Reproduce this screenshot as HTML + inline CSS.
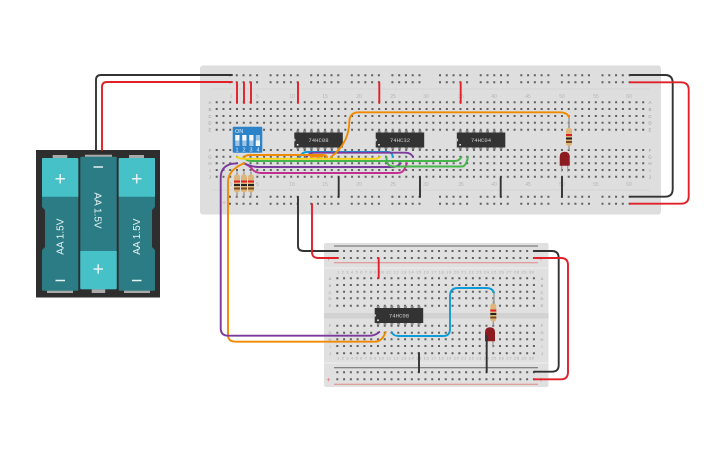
<!DOCTYPE html>
<html><head><meta charset="utf-8"><style>
html,body{margin:0;padding:0;background:#fff}
svg{display:block}
text{font-family:"Liberation Sans",sans-serif}
.n{font-size:5px;fill:#b4b4b4;text-anchor:middle}
.m{font-size:4.5px;fill:#999;text-anchor:middle}
.w{fill:none;stroke-width:1.9;stroke-linecap:round}
.ic{font-family:"Liberation Mono",monospace;font-size:5.6px;fill:#cfcfcf;text-anchor:middle}
.aa{font-size:10px;fill:#e8f4f4;text-anchor:middle}
</style></head><body>
<svg width="725" height="453" viewBox="0 0 725 453" xmlns="http://www.w3.org/2000/svg">
<defs>
<g id="g5"><line x1="-1" y1="0" x2="28.5" y2="0" stroke="#606060" stroke-width="2" stroke-dasharray="2 4.77"/></g>
<g id="railg">
<use href="#g5" x="230"/><use href="#g5" x="270.6"/><use href="#g5" x="311.2"/><use href="#g5" x="351.8"/><use href="#g5" x="392.4"/><use href="#g5" x="440"/><use href="#g5" x="480.7"/><use href="#g5" x="521.3"/><use href="#g5" x="561.9"/><use href="#g5" x="602.5"/>
</g>
<line id="bigrow" x1="215.7" y1="0" x2="645" y2="0" stroke="#606060" stroke-width="2" stroke-dasharray="2 4.77"/>
<line id="smrow" x1="336.3" y1="0" x2="536" y2="0" stroke="#606060" stroke-width="2" stroke-dasharray="2 4.78"/>
<g id="res">
<line x1="0" y1="-3" x2="0" y2="22" stroke="#999" stroke-width="1.4"/>
<rect x="-3" y="0" width="6" height="18" rx="2.5" fill="#dcb67a"/>
<rect x="-3" y="6" width="6" height="2" fill="#e01f26"/>
<rect x="-3" y="9.5" width="6" height="2" fill="#222"/>
<rect x="-3" y="13" width="6" height="2" fill="#7a4a1e"/>
</g>
<g id="led">
<line x1="-3" y1="13" x2="-3" y2="20" stroke="#999" stroke-width="1.2"/>
<line x1="3" y1="13" x2="3" y2="20" stroke="#999" stroke-width="1.2"/>
<path d="M-5 14 V5 Q-5 0 0 0 Q5 0 5 5 V14 Z" fill="#8c1c1f"/>
</g>
<g id="chip">
<line x1="2" y1="-1" x2="48" y2="-1" stroke="#888" stroke-width="2" stroke-dasharray="3 3.8"/>
<line x1="2" y1="15.5" x2="48" y2="15.5" stroke="#888" stroke-width="2" stroke-dasharray="3 3.8"/>
<rect x="0" y="0" width="48.5" height="15" fill="#333"/>
<path d="M0 5.5 L1.5 7.5 L0 9.5Z" fill="#dcdcdc"/>
<rect x="2.5" y="11.5" width="1.6" height="1.6" fill="#eee"/>
</g>
</defs>

<!-- big board -->
<rect x="200" y="65.5" width="461" height="149" rx="3" fill="#dedede"/>
<line x1="212" y1="89" x2="650" y2="89" stroke="#d4d4d4"/>
<line x1="212" y1="190" x2="650" y2="190" stroke="#d4d4d4"/>
<use href="#railg" y="75.3"/><use href="#railg" y="82.3"/><use href="#railg" y="196.7"/><use href="#railg" y="203.7"/>
<use href="#bigrow" y="102.3"/><use href="#bigrow" y="109"/><use href="#bigrow" y="116"/><use href="#bigrow" y="122.7"/><use href="#bigrow" y="129.7"/>
<use href="#bigrow" y="150"/><use href="#bigrow" y="156.7"/><use href="#bigrow" y="163.3"/><use href="#bigrow" y="170"/><use href="#bigrow" y="176.7"/>
<g class="n">
<text x="231" y="98">1</text><text x="257.5" y="98">5</text><text x="292" y="98">10</text><text x="325" y="98">15</text><text x="359" y="98">20</text><text x="393" y="98">25</text><text x="426" y="98">30</text><text x="461" y="98">35</text><text x="494" y="98">40</text><text x="528" y="98">45</text><text x="562" y="98">50</text><text x="596" y="98">55</text><text x="629" y="98">60</text>
<text x="231" y="186">1</text><text x="257.5" y="186">5</text><text x="292" y="186">10</text><text x="325" y="186">15</text><text x="359" y="186">20</text><text x="393" y="186">25</text><text x="426" y="186">30</text><text x="461" y="186">35</text><text x="494" y="186">40</text><text x="528" y="186">45</text><text x="562" y="186">50</text><text x="596" y="186">55</text><text x="629" y="186">60</text>
</g>
<g class="m">
<text x="650" y="104">A</text><text x="650" y="111">B</text><text x="650" y="118">C</text><text x="650" y="124.5">D</text><text x="650" y="131.5">E</text><text x="650" y="152">F</text><text x="650" y="158.5">G</text><text x="650" y="165">H</text><text x="650" y="172">I</text><text x="650" y="178.5">J</text>
<text x="210" y="104">A</text><text x="210" y="111">B</text><text x="210" y="118">C</text><text x="210" y="124.5">D</text><text x="210" y="131.5">E</text><text x="210" y="152">F</text><text x="210" y="158.5">G</text><text x="210" y="165">H</text><text x="210" y="172">I</text><text x="210" y="178.5">J</text>
</g>
<text x="224" y="205" font-size="7" fill="#e9a0a0" text-anchor="middle">+</text>

<!-- small board -->
<rect x="324" y="243" width="224.5" height="144" rx="2" fill="#e0e0e0"/>
<rect x="324" y="313" width="224.5" height="5.5" fill="#d2d2d2"/>
<line x1="324" y1="268" x2="548" y2="268" stroke="#eee"/>
<line x1="324" y1="363" x2="548" y2="363" stroke="#eee"/>
<line x1="334" y1="246" x2="538" y2="246" stroke="#666"/>
<line x1="334" y1="262.7" x2="538" y2="262.7" stroke="#d88"/>
<line x1="334" y1="367.7" x2="538" y2="367.7" stroke="#666"/>
<line x1="334" y1="384.3" x2="538" y2="384.3" stroke="#d88"/>
<use href="#smrow" y="251"/><use href="#smrow" y="258"/><use href="#smrow" y="372.3"/><use href="#smrow" y="379.3"/>
<use href="#smrow" y="278.3"/><use href="#smrow" y="285"/><use href="#smrow" y="291.7"/><use href="#smrow" y="298.3"/><use href="#smrow" y="305.7"/>
<use href="#smrow" y="325.7"/><use href="#smrow" y="332.7"/><use href="#smrow" y="339.3"/><use href="#smrow" y="346"/><use href="#smrow" y="353.3"/>
<text x="328.5" y="261" font-size="7" fill="#d66" text-anchor="middle">+</text>
<text x="328.5" y="382" font-size="7" fill="#d66" text-anchor="middle">+</text>
<text x="541" y="261" font-size="7" fill="#d66" text-anchor="middle">+</text>
<text x="541" y="382" font-size="7" fill="#d66" text-anchor="middle">+</text>
<g class="m" style="font-size:4px">
<text x="330" y="280">A</text><text x="330" y="287">B</text><text x="330" y="294">C</text><text x="330" y="300">D</text><text x="330" y="307">E</text><text x="330" y="327">F</text><text x="330" y="334">G</text><text x="330" y="341">H</text><text x="330" y="348">I</text><text x="330" y="355">J</text>
<text x="542" y="280">A</text><text x="542" y="287">B</text><text x="542" y="294">C</text><text x="542" y="300">D</text><text x="542" y="307">E</text><text x="542" y="327">F</text><text x="542" y="334">G</text><text x="542" y="341">H</text><text x="542" y="348">I</text><text x="542" y="355">J</text>
</g>
<text x="337" y="273.5" font-size="4" fill="#aaa" textLength="197" lengthAdjust="spacing">1  2  3  4  5  6  7  8  9  10 11 12 13 14 15 16 17 18 19 20 21 22 23 24 25 26 27 28 29 30</text>
<text x="337" y="359.5" font-size="4" fill="#aaa" textLength="197" lengthAdjust="spacing">1  2  3  4  5  6  7  8  9  10 11 12 13 14 15 16 17 18 19 20 21 22 23 24 25 26 27 28 29 30</text>

<!-- chips -->
<use href="#chip" x="294.3" y="132.5"/><text class="ic" x="318.5" y="142">74HC08</text>
<use href="#chip" x="375.7" y="132.5"/><text class="ic" x="400" y="142">74HC32</text>
<use href="#chip" x="456.8" y="132.5"/><text class="ic" x="481" y="142">74HC04</text>
<use href="#chip" x="374.7" y="308"/><text class="ic" x="399" y="317.5">74HC08</text>

<!-- DIP -->
<rect x="232.7" y="126.7" width="29.6" height="26" rx="1" fill="#2c83c9"/>
<text x="235" y="133" font-size="5.5" fill="#e6f0fa">ON</text>
<g fill="#9fc4e4">
<rect x="235.3" y="135" width="4.2" height="11"/><rect x="242.3" y="135" width="4.2" height="11"/><rect x="249.3" y="135" width="4.2" height="11"/><rect x="255.8" y="135" width="4.2" height="11"/>
</g>
<g fill="#f4f8fc">
<rect x="235.3" y="135" width="4.2" height="5.5"/><rect x="242.3" y="135" width="4.2" height="5.5"/><rect x="249.3" y="135" width="4.2" height="5.5"/><rect x="255.8" y="140.5" width="4.2" height="5.5"/>
</g>
<g font-size="5.5" fill="#e6f0fa" text-anchor="middle"><text x="237" y="151.5">1</text><text x="244" y="151.5">2</text><text x="251" y="151.5">3</text><text x="258" y="151.5">4</text></g>

<!-- resistors & LEDs -->
<use href="#res" x="237" y="174.5"/><use href="#res" x="244" y="174.5"/><use href="#res" x="251" y="174.5"/>
<use href="#res" x="569" y="128"/><use href="#led" x="564.7" y="151.7"/>
<use href="#res" x="493.3" y="303.5"/><use href="#led" x="490" y="327.3"/>
<line x1="569" y1="116" x2="569" y2="128" stroke="#999" stroke-width="1.4"/>
<line x1="494" y1="292" x2="494" y2="304" stroke="#999" stroke-width="1.4"/>

<!-- battery -->
<rect x="36" y="150" width="124" height="147.5" fill="#2e2e2e"/>
<rect x="52.7" y="155" width="14.6" height="3.5" fill="#aaa"/><rect x="129" y="155" width="15" height="3.5" fill="#aaa"/><rect x="85" y="154.7" width="27" height="2.5" fill="#aaa"/>
<rect x="47" y="290" width="26" height="3" fill="#aaa"/><rect x="124" y="290" width="26" height="3" fill="#aaa"/><rect x="91.7" y="289" width="13.5" height="4" fill="#aaa"/>
<path d="M43 158 H77 Q78.3 158 78.3 159 V290 Q78.3 290.7 77 290.7 H43 Q42 290.7 42 290 V250 L45 247 V210 L42 207 V159 Q42 158 43 158Z" fill="#2b7c85"/>
<path d="M43 158 H77 Q78.3 158 78.3 159 V196.7 H42 V159 Q42 158 43 158Z" fill="#45c1c7"/>
<rect x="80.3" y="156.7" width="36.4" height="132.6" rx="1" fill="#2b7c85"/>
<path d="M80.3 251 H116.7 V288 Q116.7 289.3 115.5 289.3 H81.5 Q80.3 289.3 80.3 288Z" fill="#45c1c7"/>
<path d="M119.7 158 H154 Q155 158 155 159 V207 L152 210 V247 L155 250 V290 Q155 290.7 154 290.7 H120 Q118.7 290.7 118.7 290 V159 Q118.7 158 119.7 158Z" fill="#2b7c85"/>
<path d="M119.7 158 H154 Q155 158 155 159 V196.7 H118.7 V159 Q118.7 158 119.7 158Z" fill="#45c1c7"/>
<text class="aa" transform="translate(63.5,236.7) rotate(-90)">AA 1.5V</text>
<text class="aa" transform="translate(94.5,210.5) rotate(90)">AA 1.5V</text>
<text class="aa" transform="translate(140,236.7) rotate(-90)">AA 1.5V</text>
<g stroke="#e4f2f2" stroke-width="1.5" fill="none">
<path d="M55.5 178.7 H65 M60.2 174 V183.5"/><path d="M55.5 280.5 H65"/>
<path d="M93.5 167 H103"/><path d="M93.5 269 H103 M98.2 264.3 V273.7"/>
<path d="M132 178.7 H141.5 M136.7 174 V183.5"/><path d="M132 280.5 H141.5"/>
</g>

<!-- wires: power -->
<g class="w">
<path stroke="#333" d="M96 150 V80 Q96 75 101 75 H232"/>
<path stroke="#e2202a" d="M102 150 V87 Q102 82 107 82 H232"/>
<path stroke="#333" d="M630 75 H665 Q672.7 75 672.7 83 V189 Q672.7 196.7 665 196.7 H630"/>
<path stroke="#e2202a" d="M630 82.3 H681 Q688.7 82.3 688.7 90 V196 Q688.7 203.7 681 203.7 H630"/>
<path stroke="#e2202a" d="M237 82.3 V103 M244 82.3 V103 M251 82.3 V103 M298 82.3 V103 M379.3 82.3 V103 M460.7 82.3 V103"/>
<path stroke="#333" d="M338.7 177 V197 M420 177 V197 M500.7 177 V197 M562 177 V197"/>
<path stroke="#333" d="M298 197 V246 Q298 251 304 251 H338"/>
<path stroke="#e2202a" d="M312 204 V252 Q312 258 318 258 H338"/>
<path stroke="#333" d="M534 251 H552 Q558.7 251 558.7 258 V365 Q558.7 371.7 552 371.7 H534"/>
<path stroke="#e2202a" d="M534 258 H561 Q568 258 568 265 V372 Q568 379.3 561 379.3 H534"/>
<path stroke="#e2202a" d="M378.7 258 V278"/>
<path stroke="#333" d="M419 353 V372.3 M486.7 336 V372.3"/>
</g>
<!-- wires: signals -->
<g class="w">
<path stroke="#c42e92" d="M244 163.3 Q250 166 253 170 Q256 173 261 173 H398 Q403 173 405 168 L407 163.3"/>
<path stroke="#7b3a9c" d="M244 163.3 Q252 167 258 167 H393 Q397 167 400.7 163.3"/>
<path stroke="#0f9bd7" d="M300 157 Q302 152 307 152 H388 Q392 152 393 157"/>
<path stroke="#7b3a9c" d="M306.7 157 Q309 152.7 314 152.7 H406 Q411 153 413 157"/>
<path stroke="#44b549" d="M244 157 Q246 161 251 161 H455 Q459 161 461.5 157"/>
<path stroke="#44b549" d="M386.5 157 Q386.5 166.5 393 166.5 H462 Q466 166.5 468 157"/>
<path stroke="#f7d417" d="M237 157 Q240 158.8 244 158.8 H375 Q378 158.8 380 157"/>
<path stroke="#f08a00" d="M244 157 Q246 155 250 155 H323 Q326 155 327 157"/>
<path stroke="#f08a00" stroke-width="3" d="M311 156 H322"/>
<path stroke="#f08a00" d="M331 157 Q349 143 349.3 122 Q349.3 112.3 359 112.3 H560 Q567 112.3 569 117"/>
<path stroke="#f08a00" d="M244 163.3 Q228 170 228 182 V335 Q228 341.7 236 341.7 H375 Q382 341.7 385.7 332"/>
<path stroke="#7b3a9c" d="M237 163.3 L232 163.8 Q220.7 166 220.7 178 V328 Q220.7 335.7 228 335.7 H370 Q375 335.7 379.3 332"/>
<path stroke="#0f9bd7" d="M391.7 332 Q393 336 399 336 H443 Q450 336 450 329 V296 Q450 288 458 288 H487 Q492 288 494 292.5"/>
</g>
</svg>
</body></html>
